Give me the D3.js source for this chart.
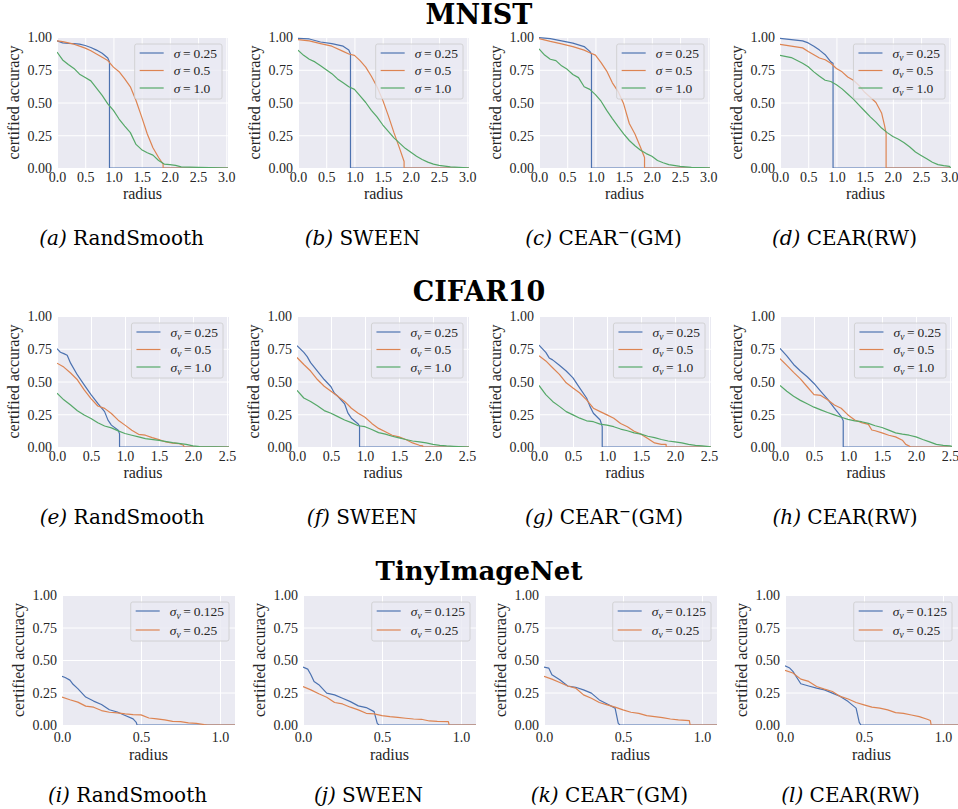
<!DOCTYPE html>
<html>
<head>
<meta charset="utf-8">
<script src="https://cdn.jsdelivr.net/npm/d3@7"></script>
<style>
  body { margin: 0; background: #fff; }
  svg { display: block; }
</style>
</head>
<body>
<div id="chart"></div>
<script>
// seaborn "deep" palette
const colors = ["#4c72b0", "#dd8452", "#55a868"];

const datasets = ["MNIST", "CIFAR10", "TinyImageNet"];
const methods = ["RandSmooth", "SWEEN", "CEAR(GM)", "CEAR(RW)"];
const letters = ["a", "b", "c", "d", "e", "f", "g", "h", "i", "j", "k", "l"];

const sigmasBig = ["0.25", "0.5", "1.0"];
const sigmasTiny = ["0.125", "0.25"];

const yTicks = [0, 0.25, 0.5, 0.75, 1.0];
const xTicksMnist = [0, 0.5, 1.0, 1.5, 2.0, 2.5, 3.0];
const xTicksCifar = [0, 0.5, 1.0, 1.5, 2.0, 2.5];
const xTicksTiny = [0, 0.5, 1.0];

// [radius, certified accuracy] per sigma
const mnistRandSmooth = [
  [[0,0.97],[0.1,0.955],[0.2,0.952],[0.3,0.95],[0.4,0.946],[0.5,0.935],[0.6,0.92],[0.7,0.9],[0.8,0.876],[0.9,0.84],[0.93,0.81],[0.93,0],[3.03,0]],
  [[0,0.97],[0.1,0.965],[0.2,0.955],[0.3,0.945],[0.4,0.93],[0.5,0.915],[0.6,0.895],[0.7,0.87],[0.8,0.845],[0.9,0.82],[1.0,0.77],[1.1,0.735],[1.2,0.68],[1.3,0.62],[1.4,0.515],[1.5,0.39],[1.6,0.26],[1.7,0.155],[1.8,0.08],[1.88,0.03],[1.88,0],[3.03,0]],
  [[0,0.885],[0.1,0.825],[0.2,0.79],[0.3,0.76],[0.4,0.716],[0.5,0.69],[0.6,0.665],[0.7,0.61],[0.8,0.555],[0.9,0.49],[1.0,0.44],[1.1,0.374],[1.2,0.32],[1.3,0.27],[1.4,0.18],[1.5,0.14],[1.6,0.116],[1.7,0.098],[1.8,0.057],[1.9,0.03],[2.0,0.026],[2.1,0.02],[2.2,0.008],[2.5,0.005],[2.7,0.003],[3.0,0],[3.03,0]]
];
const mnistSween = [
  [[0,0.99],[0.2,0.985],[0.4,0.962],[0.6,0.95],[0.8,0.93],[0.9,0.9],[0.93,0.87],[0.93,0],[3.03,0]],
  [[0,0.98],[0.2,0.97],[0.4,0.95],[0.6,0.93],[0.8,0.89],[0.9,0.87],[1.0,0.86],[1.1,0.82],[1.2,0.77],[1.3,0.7],[1.4,0.62],[1.5,0.52],[1.6,0.4],[1.7,0.27],[1.8,0.15],[1.88,0.05],[1.88,0],[3.03,0]],
  [[0,0.9],[0.1,0.86],[0.2,0.83],[0.3,0.81],[0.4,0.78],[0.5,0.75],[0.6,0.72],[0.7,0.68],[0.8,0.65],[0.9,0.62],[1.0,0.6],[1.1,0.55],[1.2,0.5],[1.3,0.44],[1.4,0.39],[1.5,0.33],[1.6,0.28],[1.7,0.23],[1.8,0.19],[1.9,0.15],[2.0,0.12],[2.1,0.09],[2.2,0.065],[2.3,0.045],[2.4,0.03],[2.5,0.02],[2.7,0.008],[3.0,0.002],[3.03,0]]
];
const mnistCearGM = [
  [[0,0.995],[0.2,0.987],[0.4,0.97],[0.6,0.953],[0.8,0.927],[0.9,0.89],[0.93,0.87],[0.93,0],[3.03,0]],
  [[0,0.987],[0.2,0.966],[0.4,0.948],[0.6,0.927],[0.8,0.9],[0.9,0.88],[1.0,0.862],[1.1,0.805],[1.2,0.74],[1.3,0.65],[1.4,0.585],[1.5,0.49],[1.6,0.34],[1.7,0.26],[1.8,0.156],[1.87,0.08],[1.87,0],[3.03,0]],
  [[0,0.91],[0.1,0.862],[0.2,0.83],[0.3,0.82],[0.4,0.78],[0.5,0.753],[0.6,0.714],[0.7,0.69],[0.8,0.62],[0.9,0.6],[1.0,0.56],[1.1,0.51],[1.2,0.44],[1.3,0.377],[1.4,0.317],[1.5,0.26],[1.6,0.21],[1.7,0.17],[1.8,0.135],[1.9,0.11],[2.0,0.09],[2.1,0.057],[2.2,0.04],[2.3,0.026],[2.5,0.013],[2.7,0.005],[3.0,0.002],[3.03,0]]
];
const mnistCearRW = [
  [[0,0.99],[0.2,0.98],[0.4,0.97],[0.5,0.955],[0.6,0.93],[0.7,0.9],[0.8,0.865],[0.9,0.81],[0.94,0.8],[0.94,0],[3.03,0]],
  [[0,0.943],[0.2,0.93],[0.4,0.917],[0.5,0.89],[0.6,0.865],[0.7,0.84],[0.8,0.826],[0.9,0.8],[1.0,0.76],[1.1,0.734],[1.2,0.695],[1.3,0.67],[1.4,0.63],[1.5,0.578],[1.6,0.54],[1.7,0.5],[1.8,0.42],[1.85,0.33],[1.88,0.265],[1.88,0],[3.03,0]],
  [[0,0.86],[0.2,0.843],[0.4,0.8],[0.5,0.773],[0.6,0.734],[0.7,0.7],[0.8,0.67],[0.9,0.66],[1.0,0.635],[1.1,0.604],[1.2,0.565],[1.3,0.526],[1.4,0.48],[1.5,0.435],[1.6,0.39],[1.7,0.35],[1.8,0.305],[1.9,0.27],[2.0,0.24],[2.1,0.22],[2.2,0.193],[2.3,0.16],[2.4,0.122],[2.5,0.096],[2.6,0.07],[2.7,0.044],[2.8,0.026],[2.9,0.018],[3.0,0.013],[3.03,0]]
];

const cifarRandSmooth = [
  [[0,0.75],[0.05,0.723],[0.1,0.713],[0.15,0.7],[0.2,0.64],[0.3,0.55],[0.4,0.474],[0.5,0.4],[0.6,0.333],[0.7,0.27],[0.75,0.205],[0.8,0.167],[0.9,0.128],[0.92,0.1],[0.92,0],[2.53,0]],
  [[0,0.64],[0.1,0.61],[0.2,0.565],[0.3,0.513],[0.4,0.436],[0.5,0.37],[0.6,0.313],[0.7,0.295],[0.8,0.256],[0.9,0.205],[1.0,0.167],[1.1,0.128],[1.2,0.097],[1.3,0.09],[1.4,0.072],[1.5,0.056],[1.6,0.038],[1.7,0.03],[1.8,0.026],[1.86,0.013],[1.87,0],[2.53,0]],
  [[0,0.41],[0.1,0.36],[0.2,0.32],[0.3,0.277],[0.4,0.244],[0.5,0.218],[0.6,0.185],[0.7,0.16],[0.8,0.146],[0.9,0.123],[1.0,0.103],[1.1,0.09],[1.2,0.077],[1.3,0.064],[1.5,0.05],[1.7,0.033],[1.9,0.02],[2.0,0.008],[2.1,0.003],[2.53,0]]
];
const cifarSween = [
  [[0,0.773],[0.1,0.722],[0.15,0.69],[0.2,0.644],[0.3,0.58],[0.4,0.515],[0.5,0.46],[0.55,0.41],[0.6,0.387],[0.7,0.33],[0.75,0.258],[0.8,0.22],[0.9,0.175],[0.92,0.16],[0.92,0],[2.53,0]],
  [[0,0.683],[0.1,0.63],[0.2,0.58],[0.3,0.515],[0.4,0.464],[0.5,0.425],[0.6,0.387],[0.7,0.348],[0.8,0.296],[0.9,0.258],[1.0,0.227],[1.1,0.18],[1.2,0.142],[1.3,0.116],[1.4,0.09],[1.5,0.077],[1.6,0.057],[1.7,0.031],[1.8,0.013],[1.85,0.008],[1.85,0],[2.53,0]],
  [[0,0.433],[0.1,0.374],[0.2,0.348],[0.3,0.314],[0.4,0.278],[0.5,0.258],[0.6,0.232],[0.7,0.206],[0.8,0.186],[0.9,0.162],[1.0,0.155],[1.1,0.134],[1.2,0.11],[1.3,0.098],[1.4,0.082],[1.5,0.07],[1.6,0.057],[1.7,0.046],[1.8,0.039],[1.9,0.031],[2.0,0.02],[2.1,0.013],[2.2,0.008],[2.3,0.005],[2.53,0]]
];
const cifarCearGM = [
  [[0,0.778],[0.1,0.722],[0.15,0.68],[0.2,0.665],[0.3,0.624],[0.4,0.58],[0.5,0.528],[0.6,0.45],[0.7,0.374],[0.75,0.31],[0.8,0.258],[0.9,0.206],[0.93,0.155],[0.93,0],[2.53,0]],
  [[0,0.696],[0.1,0.657],[0.2,0.605],[0.3,0.554],[0.4,0.49],[0.5,0.45],[0.6,0.412],[0.7,0.36],[0.8,0.296],[0.9,0.27],[1.0,0.245],[1.1,0.22],[1.2,0.18],[1.3,0.155],[1.4,0.12],[1.5,0.098],[1.6,0.064],[1.7,0.031],[1.8,0.02],[1.87,0.02],[1.87,0],[2.53,0]],
  [[0,0.47],[0.1,0.4],[0.2,0.348],[0.3,0.31],[0.4,0.27],[0.5,0.245],[0.6,0.22],[0.7,0.2],[0.8,0.193],[0.9,0.175],[1.0,0.167],[1.1,0.155],[1.2,0.137],[1.3,0.124],[1.4,0.108],[1.5,0.098],[1.6,0.082],[1.7,0.072],[1.8,0.057],[1.9,0.046],[2.0,0.039],[2.1,0.031],[2.2,0.02],[2.3,0.013],[2.4,0.008],[2.5,0.003],[2.53,0]]
];
const cifarCearRW = [
  [[0,0.753],[0.1,0.696],[0.2,0.63],[0.3,0.58],[0.4,0.536],[0.5,0.485],[0.6,0.425],[0.7,0.366],[0.8,0.296],[0.9,0.232],[0.93,0.2],[0.93,0],[2.53,0]],
  [[0,0.675],[0.1,0.623],[0.2,0.57],[0.3,0.52],[0.4,0.46],[0.5,0.4],[0.6,0.394],[0.7,0.36],[0.8,0.32],[0.9,0.296],[1.0,0.245],[1.1,0.206],[1.2,0.186],[1.3,0.173],[1.35,0.13],[1.4,0.124],[1.5,0.108],[1.6,0.09],[1.7,0.077],[1.8,0.052],[1.85,0.02],[1.9,0.008],[1.92,0],[2.53,0]],
  [[0,0.47],[0.1,0.425],[0.2,0.387],[0.3,0.356],[0.4,0.33],[0.5,0.304],[0.6,0.283],[0.7,0.263],[0.8,0.245],[0.9,0.227],[1.0,0.211],[1.1,0.2],[1.2,0.193],[1.3,0.18],[1.4,0.162],[1.5,0.149],[1.6,0.129],[1.7,0.108],[1.8,0.098],[1.9,0.09],[2.0,0.077],[2.1,0.057],[2.2,0.039],[2.3,0.02],[2.4,0.013],[2.5,0.008],[2.53,0.005]]
];

const tinyRandSmooth = [
  [[0,0.375],[0.02,0.365],[0.05,0.345],[0.07,0.313],[0.1,0.28],[0.15,0.215],[0.2,0.184],[0.25,0.158],[0.3,0.117],[0.35,0.1],[0.4,0.073],[0.45,0.047],[0.47,0.02],[0.475,0],[1.095,0]],
  [[0,0.215],[0.05,0.194],[0.1,0.176],[0.15,0.145],[0.2,0.137],[0.25,0.111],[0.3,0.098],[0.35,0.093],[0.4,0.085],[0.45,0.08],[0.5,0.078],[0.55,0.054],[0.6,0.047],[0.65,0.039],[0.7,0.028],[0.75,0.026],[0.8,0.016],[0.85,0.013],[0.9,0.003],[0.92,0],[1.095,0]]
];
const tinySween = [
  [[0,0.446],[0.03,0.43],[0.05,0.387],[0.07,0.335],[0.1,0.31],[0.15,0.245],[0.2,0.232],[0.25,0.206],[0.3,0.18],[0.35,0.147],[0.4,0.134],[0.45,0.103],[0.47,0.013],[0.48,0],[1.095,0]],
  [[0,0.296],[0.05,0.27],[0.1,0.24],[0.15,0.214],[0.2,0.173],[0.25,0.162],[0.3,0.137],[0.35,0.116],[0.4,0.09],[0.45,0.085],[0.5,0.072],[0.55,0.064],[0.6,0.059],[0.65,0.052],[0.7,0.046],[0.75,0.044],[0.8,0.031],[0.85,0.028],[0.92,0.026],[0.925,0],[1.095,0]]
];
const tinyCearGM = [
  [[0,0.446],[0.03,0.438],[0.05,0.387],[0.1,0.348],[0.15,0.3],[0.2,0.29],[0.25,0.27],[0.3,0.245],[0.35,0.193],[0.4,0.162],[0.45,0.13],[0.47,0.013],[0.48,0],[1.095,0]],
  [[0,0.374],[0.05,0.353],[0.1,0.327],[0.15,0.3],[0.2,0.284],[0.25,0.232],[0.3,0.206],[0.35,0.173],[0.4,0.155],[0.45,0.137],[0.5,0.116],[0.55,0.098],[0.6,0.09],[0.65,0.072],[0.7,0.064],[0.75,0.057],[0.8,0.046],[0.85,0.039],[0.92,0.034],[0.925,0],[1.095,0]]
];
const tinyCearRW = [
  [[0,0.456],[0.03,0.438],[0.05,0.412],[0.1,0.317],[0.15,0.3],[0.2,0.284],[0.25,0.27],[0.3,0.245],[0.35,0.22],[0.4,0.18],[0.45,0.13],[0.47,0.02],[0.48,0],[1.095,0]],
  [[0,0.42],[0.05,0.4],[0.1,0.353],[0.15,0.335],[0.2,0.296],[0.25,0.276],[0.3,0.258],[0.35,0.22],[0.4,0.2],[0.45,0.173],[0.5,0.155],[0.55,0.137],[0.6,0.13],[0.65,0.116],[0.7,0.095],[0.75,0.09],[0.8,0.077],[0.85,0.064],[0.9,0.044],[0.92,0.035],[0.925,0],[1.095,0]]
];

const panelData = [
  [mnistRandSmooth, mnistSween, mnistCearGM, mnistCearRW],
  [cifarRandSmooth, cifarSween, cifarCearGM, cifarCearRW],
  [tinyRandSmooth, tinySween, tinyCearGM, tinyCearRW]
];

// layout of each row of panels
const rows = [
  { title: datasets[0], titleY: 24, top: 37, bottom: 168, lefts: [57, 298, 539, 780], width: 171, xmax: 3.03, xticks: xTicksMnist, sigmas: sigmasBig, captionY: 245, tickY: 14, labelY: 31 },
  { title: datasets[1], titleY: 301, top: 316, bottom: 447, lefts: [57, 297, 539, 780], width: 172, xmax: 2.53, xticks: xTicksCifar, sigmas: sigmasBig, captionY: 524, tickY: 14, labelY: 31 },
  { title: datasets[2], titleY: 580, top: 595, bottom: 725, lefts: [62, 303, 544, 785], width: 173, xmax: 1.095, xticks: xTicksTiny, sigmas: sigmasTiny, captionY: 802, tickY: 17, labelY: 35 }
];

const W = 958, H = 809;
const svg = d3.select("#chart").append("svg")
  .attr("width", W).attr("height", H)
  .attr("viewBox", [0, 0, W, H]);

const tickFont = "'Liberation Serif', 'Times New Roman', serif";
const capFont = "'DejaVu Serif', serif";

rows.forEach((row, ri) => {
  svg.append("text")
    .attr("x", 479).attr("y", row.titleY)
    .attr("text-anchor", "middle")
    .style("font-family", capFont)
    .style("font-weight", "bold")
    .style("font-size", ri === 2 ? "26px" : "27px")
    .text(row.title);

  row.lefts.forEach((left, ci) => {
    const h = row.bottom - row.top;
    const x = d3.scaleLinear().domain([0, row.xmax]).range([0, row.width]);
    const y = d3.scaleLinear().domain([0, 1]).range([h, 0]);

    const g = svg.append("g").attr("transform", `translate(${left},${row.top})`);
    const clipId = `clip-${ri}-${ci}`;
    g.append("clipPath").attr("id", clipId)
      .append("rect").attr("width", row.width).attr("height", h);

    g.append("rect").attr("width", row.width).attr("height", h).attr("fill", "#eaeaf2");

    // white grid drawn by the axes themselves
    g.append("g")
      .attr("transform", `translate(0,${h})`)
      .call(d3.axisBottom(x).tickValues(row.xticks).tickSize(-h).tickFormat(d3.format(".1f")))
      .call(a => a.select(".domain").remove())
      .call(a => a.selectAll("line").attr("stroke", "#fff").attr("stroke-width", 1))
      .call(a => a.selectAll("text").attr("y", row.tickY).attr("dy", 0)
        .style("font-family", tickFont).style("font-size", "14px").attr("fill", "#262626"));

    g.append("g")
      .call(d3.axisLeft(y).tickValues(yTicks).tickSize(-row.width).tickFormat(d3.format(".2f")))
      .call(a => a.select(".domain").remove())
      .call(a => a.selectAll("line").attr("stroke", "#fff").attr("stroke-width", 1))
      .call(a => a.selectAll("text").attr("x", -5).attr("dy", "0.34em")
        .style("font-family", tickFont).style("font-size", "14px").attr("fill", "#262626"));

    g.append("text")
      .attr("transform", `translate(-38,${h / 2}) rotate(-90)`)
      .attr("text-anchor", "middle")
      .style("font-family", tickFont).style("font-size", "16px").attr("fill", "#262626")
      .text("certified accuracy");

    g.append("text")
      .attr("x", row.width / 2).attr("y", h + row.labelY)
      .attr("text-anchor", "middle")
      .style("font-family", tickFont).style("font-size", "16px").attr("fill", "#262626")
      .text("radius");

    const line = d3.line().x(d => x(d[0])).y(d => y(d[1]));
    const series = panelData[ri][ci];
    g.append("g").attr("clip-path", `url(#${clipId})`)
      .selectAll("path")
      .data(series)
      .join("path")
      .attr("d", line)
      .attr("fill", "none")
      .attr("stroke", (d, i) => colors[i])
      .attr("stroke-width", 1.2)
      .attr("stroke-linejoin", "round");

    // legend
    const sub = !(ri === 0 && ci < 3);
    const lg = g.append("g");
    const box = lg.append("rect");
    const rowGap = ri === 2 ? 19 : 17.5;
    const items = lg.selectAll("g").data(row.sigmas).join("g")
      .attr("transform", (d, i) => `translate(0,${i * rowGap})`);
    items.append("line")
      .attr("x1", 0).attr("x2", 24).attr("y1", 0).attr("y2", 0)
      .attr("stroke", (d, i) => colors[i]).attr("stroke-width", 1.2);
    const t = items.append("text")
      .attr("x", 34).attr("y", 0).attr("dy", "0.35em")
      .style("font-family", tickFont).style("font-size", "13.5px").attr("fill", "#262626");
    t.append("tspan").style("font-style", "italic").text("σ");
    if (sub) {
      t.append("tspan").style("font-style", "italic").style("font-size", "9.5px")
        .attr("dy", 3).text("v");
      t.append("tspan").attr("dy", -3).text("\u2009=\u2009");
    } else {
      t.append("tspan").text("\u2009=\u2009");
    }
    t.append("tspan").text(d => d);

    const textW = d3.max(t.nodes(), n => n.getComputedTextLength());
    const bw = 5 + 34 + textW + 5;
    const bh = (row.sigmas.length - 1) * rowGap + 20;
    const bx = row.width - 6 - bw;
    lg.attr("transform", `translate(${bx + 5},${7 + 9})`);
    box.attr("x", -5).attr("y", -9).attr("width", bw).attr("height", bh)
      .attr("rx", 2)
      .attr("fill", "#eaeaf2").attr("fill-opacity", 0.8)
      .attr("stroke", "#cccccc").attr("stroke-width", 0.8);

    // caption
    const idx = ri * 4 + ci;
    const cap = svg.append("text")
      .attr("x", left + row.width / 2 - 21).attr("y", row.captionY)
      .attr("text-anchor", "middle")
      .style("font-family", capFont).style("font-size", "20px").attr("fill", "#000");
    cap.append("tspan").style("font-style", "italic").text(`(${letters[idx]})`);
    const m = methods[ci];
    if (m === "CEAR(GM)") {
      cap.append("tspan").text(" CEAR");
      cap.append("tspan").attr("dy", -8).style("font-size", "14px").text("\u2212");
      cap.append("tspan").attr("dy", 8).text("(GM)");
    } else {
      cap.append("tspan").text(" " + m);
    }
  });
});
</script>
</body>
</html>
